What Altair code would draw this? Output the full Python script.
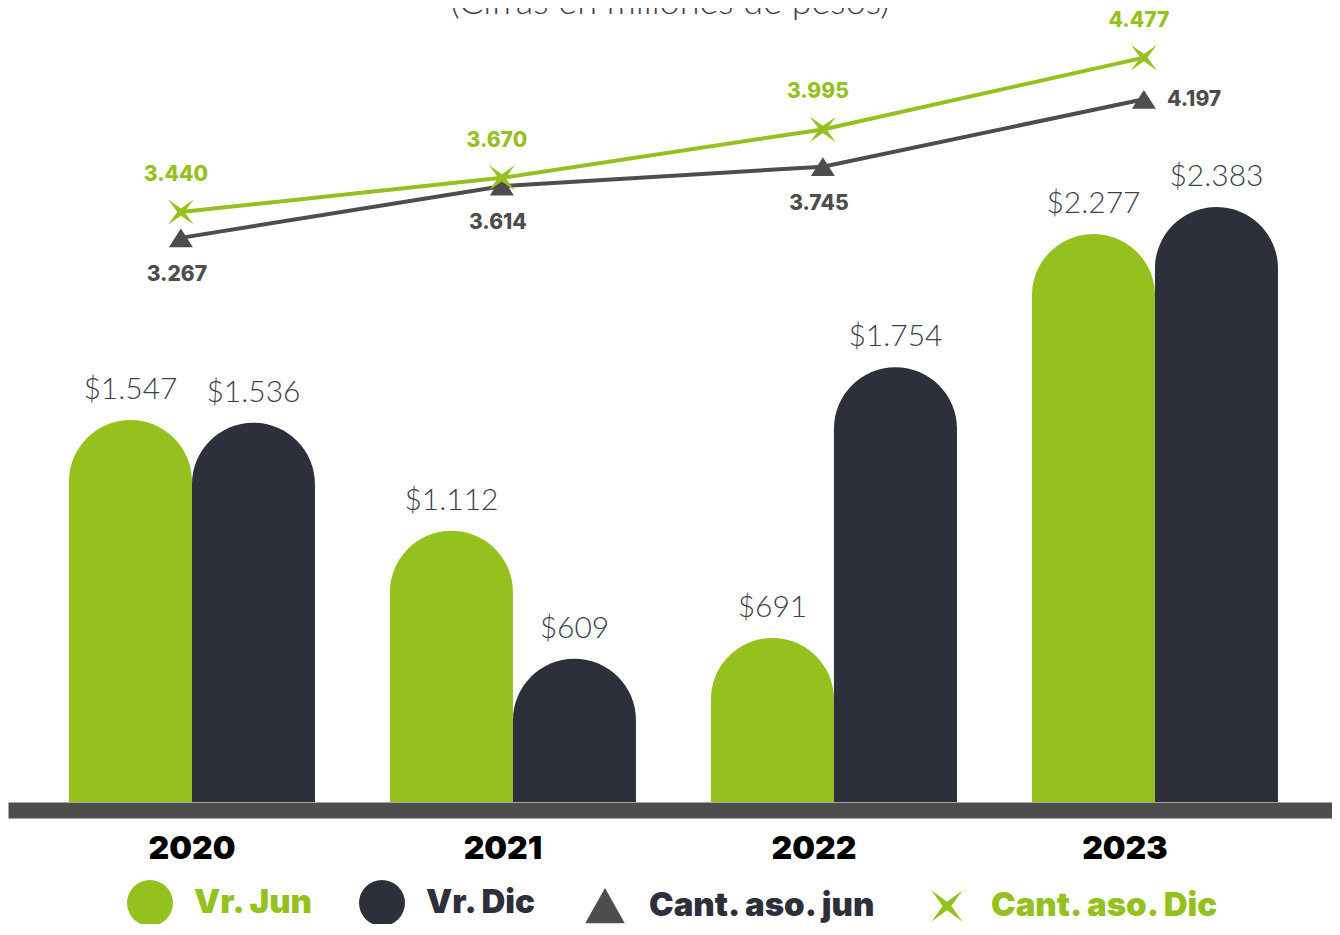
import altair as alt
import pandas as pd

years = ["2020", "2021", "2022", "2023"]
vr_jun = [1547, 1112, 691, 2277]
vr_dic = [1536, 609, 1754, 2383]
cant_jun = [3267, 3614, 3745, 4197]
cant_dic = [3440, 3670, 3995, 4477]
series = ["Vr. Jun", "Vr. Dic", "Cant. aso. jun", "Cant. aso. Dic"]
title_text = "(Cifras en millones de pesos)"

GREEN = "#95c11f"
NAVY = "#2d2f3b"
GRAY = "#4d4d4d"
TXT = "#3d3f4b"
LIGHT = "Lato"
HEAVY = "Inter"

TRI = "M0,-0.61L0.78,0.61L-0.78,0.61Z"
XSH = "M-0.61,-0.6L0,-0.17L0.61,-0.6L0.17,0L0.61,0.6L0,0.17L-0.61,0.6L-0.17,0Z"
TRI_L = "M0,-0.77L0.86,0.77L-0.86,0.77Z"
XSH_L = "M-0.68,-0.68L0,-0.19L0.68,-0.68L0.19,0L0.68,0.68L0,0.19L-0.68,0.68L-0.19,0Z"

BAR_BASE = 47  # value at the bottom edge of the bar axis


def fmt(v):
    return f"{v:,}".replace(",", ".")


bars_df = pd.DataFrame(
    [{"year": y, "serie": s, "value": v, "label": "$" + fmt(v)}
     for s, vals in (("Vr. Jun", vr_jun), ("Vr. Dic", vr_dic))
     for y, v in zip(years, vals)]
)
lines_df = pd.DataFrame(
    [{"year": y, "serie": s, "value": v, "label": fmt(v)}
     for s, vals in (("Cant. aso. jun", cant_jun), ("Cant. aso. Dic", cant_dic))
     for y, v in zip(years, vals)]
)
title_df = pd.DataFrame({"t": [title_text]})
legend_df = pd.DataFrame({"serie": series})

W = 1324
H = 794

# mark colours (domain order differs from the legend's so the two are kept apart)
color_scale = alt.Scale(domain=series[::-1], range=[GREEN, GRAY, NAVY, GREEN])
xscale = alt.Scale(paddingInner=0.2336, paddingOuter=0.1791, align=0.53)
ybar = alt.Scale(domain=[BAR_BASE, 3164], nice=False, zero=False)
yline = alt.Scale(domain=[-520, 4810], nice=False, zero=False)

x_bar = alt.X("year:N", scale=xscale, title=None,
              axis=alt.Axis(labelOffset=alt.ExprRef(expr="-30*datum.index")))
x_line = alt.X("year:N", scale=xscale, title=None, bandPosition=0.455)
xoff = alt.XOffset("serie:N", scale=alt.Scale(domain=["Vr. Jun", "Vr. Dic"], paddingInner=0, paddingOuter=0))

leg = alt.Legend(
    title=None, orient="none", legendX=119, legendY=872, direction="horizontal",
    labelFont=HEAVY, labelFontSize=33, labelFontWeight=900,
    labelColor=alt.ExprRef(expr=f"(datum.value == 'Vr. Jun' || datum.value == 'Cant. aso. Dic') ? '{GREEN}' : '{NAVY}'"),
    symbolStrokeWidth=0, labelOffset=21, columnPadding=45,
    symbolOpacity=1, labelLimit=400,
)

title_layer = alt.Chart(title_df).mark_text(
    font=LIGHT, fontWeight=300, fontSize=36, color=TXT, baseline="alphabetic", align="center"
).encode(x=alt.value(W / 2), y=alt.value(6), text="t:N")

bar_layer = alt.Chart(bars_df).mark_bar(
    cornerRadiusTopLeft=61.5, cornerRadiusTopRight=61.5
).encode(
    x=x_bar, xOffset=xoff,
    y=alt.Y("value:Q", scale=ybar, axis=None),
    y2=alt.Y2(datum=BAR_BASE),
    color=alt.Color("serie:N", scale=color_scale, legend=None),
)

bar_text = alt.Chart(bars_df).mark_text(
    font=LIGHT, fontWeight=300, fontSize=30, color=TXT, baseline="middle", align="center", dy=-30
).encode(
    x=x_bar, xOffset=xoff,
    y=alt.Y("value:Q", scale=ybar, axis=None),
    text="label:N",
)

line_layer = alt.Chart(lines_df).mark_line(strokeWidth=4).encode(
    x=x_line,
    y=alt.Y("value:Q", scale=yline, axis=None),
    color=alt.Color("serie:N", scale=color_scale, legend=None),
)

tri_layer = alt.Chart(lines_df).transform_filter(alt.datum.serie == "Cant. aso. jun").mark_point(
    filled=True, opacity=1, size=947, shape=TRI
).encode(
    x=x_line,
    y=alt.Y("value:Q", scale=yline, axis=None),
    color=alt.Color("serie:N", scale=color_scale, legend=None),
)

x_layer = alt.Chart(lines_df).transform_filter(alt.datum.serie == "Cant. aso. Dic").mark_point(
    filled=True, opacity=1, size=1816, shape=XSH
).encode(
    x=x_line,
    y=alt.Y("value:Q", scale=yline, axis=None),
    color=alt.Color("serie:N", scale=color_scale, legend=None),
)

# legend-only layer (no marks drawn): one legend merging fill, shape and size
legend_layer = alt.Chart(legend_df).transform_filter("false").mark_point(
    filled=True, opacity=1
).encode(
    fill=alt.Fill("serie:N", scale=alt.Scale(domain=series, range=[GREEN, NAVY, GRAY, GREEN]), legend=leg),
    shape=alt.Shape("serie:N", scale=alt.Scale(domain=series, range=["circle", "circle", TRI_L, XSH_L]), legend=leg),
    size=alt.Size("serie:N", scale=alt.Scale(domain=series, range=[2116, 2116, 2116, 2116]), legend=leg),
)

dic_text = alt.Chart(lines_df).transform_filter(alt.datum.serie == "Cant. aso. Dic").mark_text(
    font=HEAVY, fontWeight=800, fontSize=21, color=GREEN, baseline="middle", align="center", dx=-5, dy=-37
).encode(x=x_line, y=alt.Y("value:Q", scale=yline, axis=None), text="label:N")

jun_text = alt.Chart(lines_df).transform_filter(
    (alt.datum.serie == "Cant. aso. jun") & (alt.datum.year != "2023")
).mark_text(
    font=HEAVY, fontWeight=800, fontSize=21, color=GRAY, baseline="middle", align="center", dx=-4, dy=37
).encode(x=x_line, y=alt.Y("value:Q", scale=yline, axis=None), text="label:N")

jun_last = alt.Chart(lines_df).transform_filter(
    (alt.datum.serie == "Cant. aso. jun") & (alt.datum.year == "2023")
).mark_text(
    font=HEAVY, fontWeight=800, fontSize=21, color=GRAY, baseline="middle", align="left", dx=23, dy=1
).encode(x=x_line, y=alt.Y("value:Q", scale=yline, axis=None), text="label:N")

chart = alt.layer(
    title_layer, bar_layer, bar_text, line_layer, tri_layer, x_layer, dic_text, jun_text, jun_last,
    legend_layer,
).resolve_scale(y="independent").properties(
    width=W, height=H,
    autosize=alt.AutoSizeParams(type="none"),
    padding={"left": 0, "right": 0, "top": 0, "bottom": 122},
).configure_view(stroke=None).configure_axisX(
    orient="bottom", domain=True, domainColor=GRAY, domainWidth=16, domainCap="butt",
    ticks=False, tickSize=0, labelPadding=23, offset=8, grid=False,
    labelFont=HEAVY, labelFontWeight=900, labelFontSize=32, labelColor="#000000", labelAngle=0,
)

chart.save("out.html", embed_options={"renderer": "svg", "actions": False})
